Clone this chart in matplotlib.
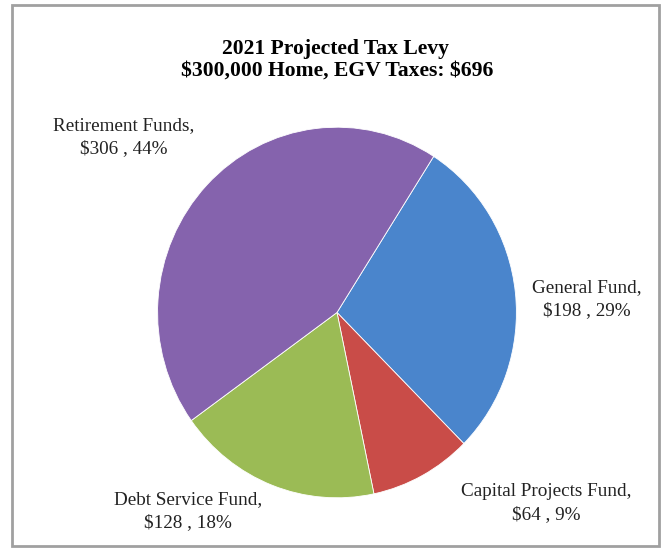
import matplotlib.pyplot as plt
from matplotlib.patches import Rectangle

# Data
funds = ['General Fund', 'Capital Projects Fund', 'Debt Service Fund', 'Retirement Funds']
amounts = [198, 64, 128, 306]
percents = [29, 9, 18, 44]
colors = ['#4a85cc', '#c94c48', '#9bbb55', '#8563ad']

W, H = 666, 553
fig = plt.figure(figsize=(W / 100, H / 100), dpi=100)
fig.patch.set_facecolor('white')

# outer chart border
fig.patches.append(Rectangle((12 / W, (H - 546) / H), (659 - 12) / W, (546 - 5) / H,
                             transform=fig.transFigure, fill=False,
                             edgecolor='#a0a0a0', linewidth=2.0))

# pie axes: the original pie is a touch taller than wide
cx, cy, rx, ry = 337, 312.5, 183, 189
ax = fig.add_axes([(cx - rx) / W, (H - cy - ry) / H, 2 * rx / W, 2 * ry / H])
wedges, _ = ax.pie(amounts, colors=colors, startangle=57.4, counterclock=False,
                   radius=1.0, wedgeprops=dict(edgecolor='white', linewidth=0.6))
ax.set_xlim(-1.02, 1.02)
ax.set_ylim(-1.02, 1.02)
ax.set_aspect('auto')
ax.axis('off')

serif = ['Liberation Serif', 'DejaVu Serif']
fig.text(335 / W, 1 - 49 / H, '2021 Projected Tax Levy', ha='center', va='center',
         fontsize=15.6, fontweight='bold', family=serif)
fig.text(337 / W, 1 - 71 / H, r'\$300,000 Home, EGV Taxes: \$696', ha='center', va='center',
         fontsize=15.6, fontweight='bold', family=serif)

# label positions (px) for each slice
label_pos = [(587, 299), (546, 503), (188, 511), (124, 137)]
for name, amt, pct, (lx, ly) in zip(funds, amounts, percents, label_pos):
    fig.text(lx / W, 1 - ly / H, f'{name},\n\\${amt} , {pct}%', ha='center', va='center',
             fontsize=13.8, family=serif, color='#222222', linespacing=1.4)

fig.savefig('out.png', dpi=100)
